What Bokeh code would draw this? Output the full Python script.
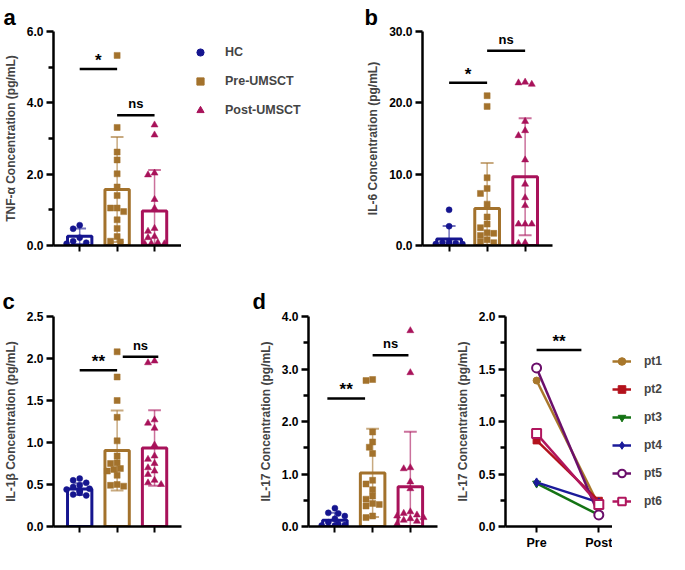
from bokeh.plotting import figure
from bokeh.layouts import row, column
from bokeh.models import Range1d, FixedTicker, NumeralTickFormatter, Legend, LegendItem, Title
from bokeh.embed import file_html
from bokeh.resources import INLINE
from bokeh.core.properties import value

FONT = "Liberation Sans"
NAN = float("nan")

# ---------------- data ----------------
groups = ["HC", "Pre-UMSCT", "Post-UMSCT"]
group_colors = ["#15158f", "#a3722c", "#a8125a"]
group_markers = ["circle", "square", "triangle"]
group_x = [1, 2, 3]

tnf_points = [
    [0.57, 0.47, 0.22, 0.12, 0.08, 0.05],
    [5.33, 3.31, 2.62, 2.40, 2.01, 1.64, 1.40, 1.05, 1.05, 0.95, 0.72, 0.48, 0.25, 0.12, 0.10],
    [3.38, 3.10, 2.03, 1.98, 1.29, 1.04, 0.48, 0.40, 0.25, 0.22, 0.08, 0.06, 0.05, 0.05],
]
tnf_mean = [0.26, 1.57, 0.97]
tnf_sd = [0.22, 1.47, 1.15]
tnf_sig = [(1, 2, 4.95, "*"), (2, 3, 3.65, "ns")]

il6_points = [
    [5.0, 2.7, 0.5, 0.4, 0.3, 0.2, 0.2, 0.1, 0.1],
    [21.0, 19.5, 9.5, 8.0, 7.3, 5.8, 4.0, 3.0, 2.5, 1.7, 1.8, 1.4, 0.8, 0.5, 0.4],
    [22.9, 22.8, 22.6, 17.4, 16.1, 15.4, 12.0, 8.6, 6.7, 5.6, 3.0, 3.0, 3.0, 0.4, 0.3],
]
il6_mean = [0.9, 5.18, 9.64]
il6_sd = [1.85, 6.4, 8.2]
il6_sig = [(1, 2, 22.8, "*"), (2, 3, 27.3, "ns")]

il1b_points = [
    [0.57, 0.55, 0.52, 0.49, 0.47, 0.45, 0.44, 0.43, 0.42, 0.40, 0.38, 0.37],
    [2.08, 1.78, 1.50, 1.30, 1.02, 0.84, 0.76, 0.75, 0.69, 0.68, 0.66, 0.61, 0.50, 0.49, 0.48],
    [1.97, 1.95, 1.27, 1.23, 1.17, 0.97, 0.84, 0.80, 0.75, 0.70, 0.66, 0.62, 0.55, 0.52, 0.50],
]
il1b_mean = [0.445, 0.905, 0.935]
il1b_sd = [0.07, 0.475, 0.45]
il1b_sig = [(1, 2, 1.86, "**"), (2.15, 3.1, 2.02, "ns")]

il17_points = [
    [0.35, 0.26, 0.25, 0.20, 0.15, 0.08, 0.05, 0.03, 0.02, 0.02],
    [2.80, 2.78, 1.80, 1.61, 1.51, 1.39, 0.88, 0.81, 0.70, 0.58, 0.52, 0.44, 0.42, 0.39, 0.20, 0.17],
    [3.73, 2.93, 1.12, 1.10, 0.85, 0.72, 0.28, 0.25, 0.22, 0.20, 0.17, 0.15, 0.12, 0.10, 0.05],
]
il17_mean = [0.12, 1.02, 0.755]
il17_sd = [0.14, 0.84, 1.05]
il17_sig = [(0.8, 1.8, 2.44, "**"), (2.0, 2.95, 3.26, "ns")]

time_labels = ["Pre", "Post"]
pt_names = ["pt1", "pt2", "pt3", "pt4", "pt5", "pt6"]
pt_pre = [1.39, 0.82, 0.41, 0.42, 1.51, 0.885]
pt_post = [0.20, 0.245, 0.11, 0.23, 0.11, 0.21]
pt_colors = ["#a8772b", "#b3121c", "#147314", "#1b1b9a", "#6b0f6b", "#b0165e"]
pt_markers = ["circle", "square", "inverted_triangle", "diamond", "circle", "square"]
pt_open = [False, False, False, False, True, True]
pair_sig = [(0, 0.72, 1.68, "**")]

# ---------------- layout constants ----------------
FRAME_H = 214
FRAME_W = 129
XR = (0.3, 3.72)


def swarm_offsets(vals, ymax, d=6.2, step=3.3, max_px=15):
    ppy = FRAME_H / ymax
    ppx = FRAME_W / (XR[1] - XR[0])
    placed = []
    offs = [0.0] * len(vals)
    for i in sorted(range(len(vals)), key=lambda k: -vals[k]):
        yp = vals[i] * ppy
        chosen = None
        for j in range(0, 12):
            for sgn in ([1] if j == 0 else [-1, 1]):
                xp = sgn * j * step
                if abs(xp) > max_px:
                    continue
                if all((xp - a) ** 2 + (yp - b) ** 2 >= d * d for a, b in placed):
                    chosen = xp
                    break
            if chosen is not None:
                break
        if chosen is None:
            chosen = 0.0
        placed.append((chosen, yp))
        offs[i] = chosen / ppx
    return offs


def style_fig(p, yticks, yminor, ylabel, letter, loff, lstand):
    p.outline_line_color = None
    p.grid.visible = False
    yax = p.yaxis[0]
    yax.ticker = FixedTicker(ticks=yticks, minor_ticks=yminor)
    yax.formatter = NumeralTickFormatter(format="0.0")
    yax.axis_label = ylabel
    yax.axis_label_text_font = FONT
    yax.axis_label_text_font_style = "bold"
    yax.axis_label_text_font_size = "12px"
    yax.axis_label_standoff = 6
    yax.major_label_text_font = FONT
    yax.major_label_text_font_style = "bold"
    yax.major_label_text_font_size = "12px"
    yax.major_label_text_color = "black"
    yax.major_label_standoff = 3
    yax.axis_line_width = 2.5
    yax.major_tick_line_width = 2.5
    yax.minor_tick_line_width = 2.5
    yax.major_tick_out = 7
    yax.major_tick_in = 0
    yax.minor_tick_out = 5
    yax.minor_tick_in = 0
    xax = p.xaxis[0]
    xax.axis_line_width = 2.5
    xax.major_tick_line_width = 2
    xax.major_tick_out = 6
    xax.major_tick_in = 0
    xax.minor_tick_line_color = None
    xax.major_label_text_font = FONT
    xax.major_label_text_font_style = "bold"
    xax.major_label_text_font_size = "12.5px"
    xax.major_label_text_color = "black"
    xax.major_label_standoff = 3
    p.title = Title(text=letter, align="left", offset=loff, standoff=lstand,
                    text_font=FONT, text_font_style="bold", text_font_size="22px",
                    text_color="black")


def add_sig(p, sig):
    for x0, x1, y, t in sig:
        p.segment(x0=[x0], y0=[y], x1=[x1], y1=[y], line_color="black", line_width=2.5)
        star = "*" in t
        p.text(x=[(x0 + x1) / 2], y=[y], text=[t], text_align="center", text_baseline="bottom",
               text_font=value(FONT), text_font_style="bold",
               text_font_size="17px" if star else "13px", y_offset=1 if star else -4,
               text_color="black")


def new_fig(width, height, left, right, top, bottom, xr, ymax):
    return figure(width=width, height=height, x_range=Range1d(*xr), y_range=Range1d(0, ymax),
                  output_backend="svg", toolbar_location=None,
                  min_border_left=left, min_border_right=right, min_border_top=top,
                  min_border_bottom=bottom, background_fill_color="white")


def bar_panel(width, height, left, right, top, bottom, points, means, sds, sig, ymax,
              yticks, yminor, ylabel, letter, loff, lstand):
    p = new_fig(width, height, left, right, top, bottom, XR, ymax)
    style_fig(p, yticks, yminor, ylabel, letter, loff, lstand)
    p.xaxis[0].ticker = FixedTicker(ticks=group_x, minor_ticks=[])
    p.xaxis[0].major_label_overrides = {x: "" for x in group_x}

    p.vbar(x=group_x, top=means, width=0.65, bottom=0, fill_color="white",
           line_color=group_colors, line_width=3)
    hi = [m + s for m, s in zip(means, sds)]
    lo = [max(m - s, 0) for m, s in zip(means, sds)]
    p.segment(x0=group_x, y0=lo, x1=group_x, y1=hi, line_color=group_colors,
              line_width=1.5, line_alpha=0.6)
    p.segment(x0=[x - 0.17 for x in group_x], y0=hi, x1=[x + 0.17 for x in group_x], y1=hi,
              line_color=group_colors, line_width=2, line_alpha=0.6)
    lo_idx = [i for i in range(3) if lo[i] > 0]
    p.segment(x0=[group_x[i] - 0.17 for i in lo_idx], y0=[lo[i] for i in lo_idx],
              x1=[group_x[i] + 0.17 for i in lo_idx], y1=[lo[i] for i in lo_idx],
              line_color=[group_colors[i] for i in lo_idx], line_width=2, line_alpha=0.6)

    for g in range(3):
        offs = swarm_offsets(points[g], ymax)
        p.scatter(x=[group_x[g] + o for o in offs], y=points[g], marker=group_markers[g],
                  size=7 if group_markers[g] == "triangle" else 6,
                  fill_color=group_colors[g], line_color=group_colors[g], line_width=0.5)
    add_sig(p, sig)
    return p


def legend_fig(width, height):
    lf = figure(width=width, height=height, x_range=Range1d(0, 1), y_range=Range1d(0, 1),
                output_backend="svg", toolbar_location=None,
                x_axis_location=None, y_axis_location=None,
                min_border_left=0, min_border_right=0, min_border_top=0, min_border_bottom=0)
    lf.outline_line_color = None
    for g in lf.grid:
        g.visible = False
    return lf


# ---------------- row 1 ----------------
pa = bar_panel(181, 270, 52, 0, 31, 25, tnf_points, tnf_mean, tnf_sd, tnf_sig, 6.0,
               [0, 2, 4, 6], [1, 3, 5], "TNF-α Concentration (pg/mL)", "a", -50, 4)

# legend-only panel (renderers hold no visible data; they only supply legend glyphs)
la = legend_fig(174, 270)
la_items = []
for g in range(3):
    r = la.scatter(x=[NAN], y=[NAN], marker=group_markers[g],
                   size=7 if group_markers[g] == "triangle" else 6,
                   fill_color=group_colors[g], line_color=group_colors[g])
    la_items.append(LegendItem(label=groups[g], renderers=[r]))
la.add_layout(Legend(items=la_items, location=(10, 125), border_line_color=None,
                     background_fill_alpha=0, label_text_font=FONT, label_text_font_style="bold",
                     label_text_font_size="12.5px", glyph_width=18, glyph_height=20,
                     label_standoff=16, spacing=9, padding=0, margin=0))

pb = bar_panel(312, 270, 67, 115, 31, 25, il6_points, il6_mean, il6_sd, il6_sig, 30.0,
               [0, 10, 20, 30], [], "IL-6 Concentration (pg/mL)", "b", -58, 4)

# ---------------- row 2 ----------------
pc = bar_panel(248, 282, 52, 67, 46, 22, il1b_points, il1b_mean, il1b_sd, il1b_sig, 2.5,
               [0, 0.5, 1.0, 1.5, 2.0, 2.5], [], "IL-1β Concentration (pg/mL)", "c", -51, 5)
pd = bar_panel(204, 282, 60, 15, 46, 22, il17_points, il17_mean, il17_sd, il17_sig, 4.0,
               [0, 1, 2, 3, 4], [0.5, 1.5, 2.5, 3.5], "IL-17 Concentration (pg/mL)", "d", -56, 5)

pe = new_fig(160, 282, 50, 0, 46, 22, (-0.5, 1.22), 2.0)
style_fig(pe, [0, 0.5, 1.0, 1.5, 2.0], [0.25, 0.75, 1.25, 1.75], "IL-17 Concentration (pg/mL)",
          "", 0, 0)
time_x = list(range(len(time_labels)))
pe.xaxis[0].ticker = FixedTicker(ticks=time_x, minor_ticks=[])
pe.xaxis[0].major_label_overrides = {i: t for i, t in enumerate(time_labels)}


def pt_size(i):
    if pt_open[i]:
        return 9
    return {"circle": 7, "square": 7, "inverted_triangle": 8, "diamond": 9}[pt_markers[i]]


le = legend_fig(55, 282)
le_items = []
for i in range(len(pt_names)):
    ys = [pt_pre[i], pt_post[i]]
    pe.line(x=time_x, y=ys, line_color=pt_colors[i], line_width=2.5)
    pe.scatter(x=time_x, y=ys, marker=pt_markers[i], size=pt_size(i),
               fill_color="white" if pt_open[i] else pt_colors[i],
               line_color=pt_colors[i], line_width=2 if pt_open[i] else 1)
    lr = le.line(x=[NAN, NAN], y=[NAN, NAN], line_color=pt_colors[i], line_width=2.5)
    sr = le.scatter(x=[NAN], y=[NAN], marker=pt_markers[i], size=pt_size(i),
                    fill_color="white" if pt_open[i] else pt_colors[i],
                    line_color=pt_colors[i], line_width=2 if pt_open[i] else 1)
    le_items.append(LegendItem(label=pt_names[i], renderers=[lr, sr]))
add_sig(pe, pair_sig)
le.add_layout(Legend(items=le_items, location=(0, 15), border_line_color=None,
                     background_fill_alpha=0, label_text_font=FONT, label_text_font_style="bold",
                     label_text_font_size="12px", glyph_width=19, glyph_height=20,
                     label_standoff=13, spacing=8, padding=0, margin=0))

layout = column(row(pa, la, pb), row(pc, pd, pe, le))

with open("out.html", "w") as f:
    f.write(file_html(layout, INLINE))
